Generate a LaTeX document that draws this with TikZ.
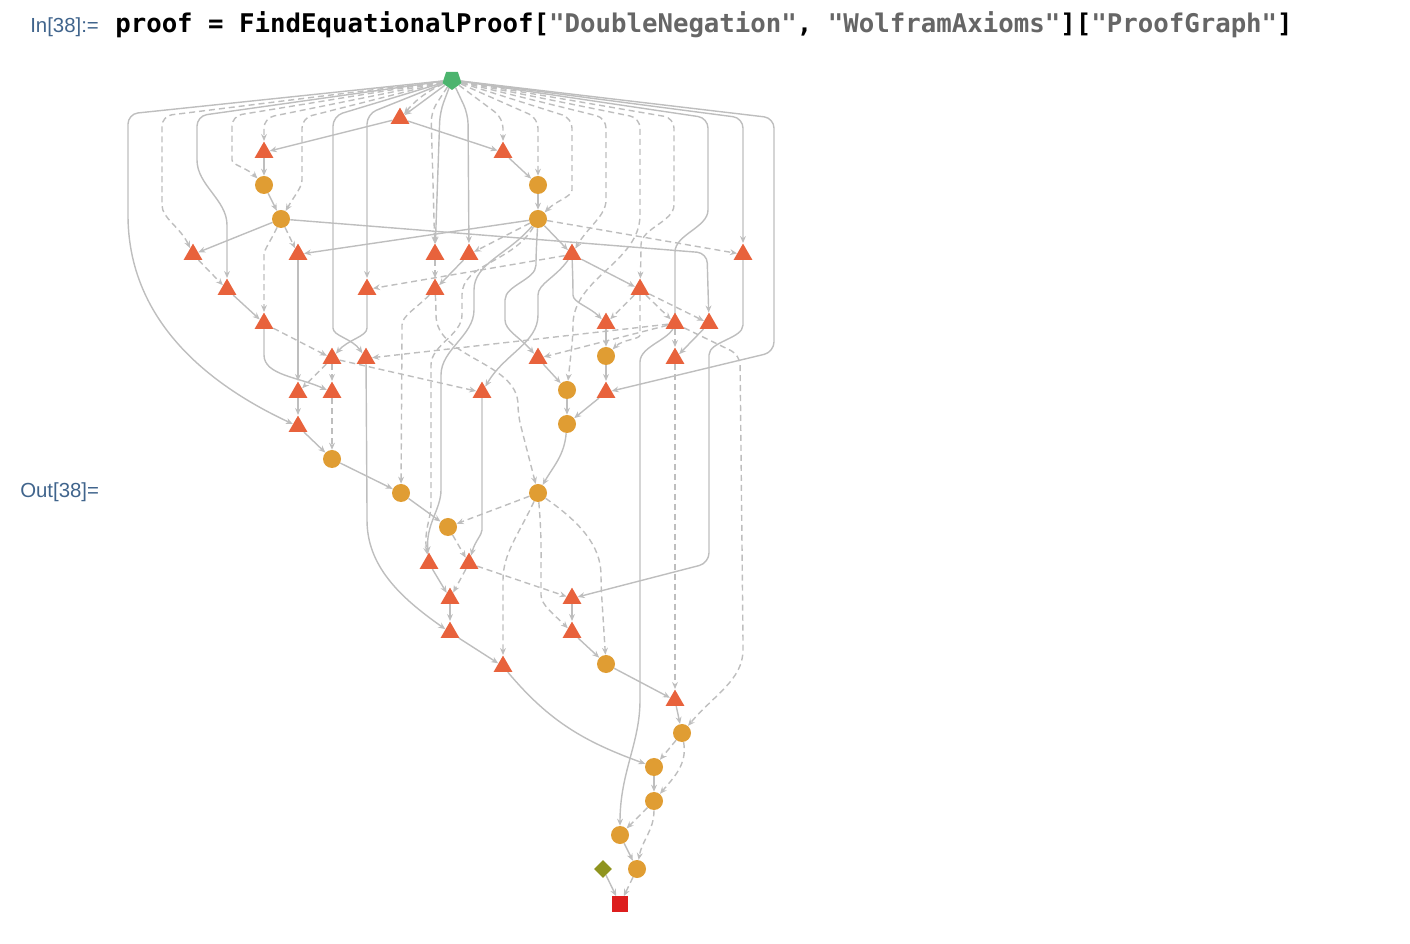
\documentclass[tikz,border=0pt]{standalone}
\usepackage{fontspec}
\setmainfont{Liberation Sans}
\newfontfamily\codefont{DejaVu Sans Mono}
\usetikzlibrary{shapes.geometric,arrows.meta,backgrounds}

\definecolor{triC}{RGB}{232,98,60}
\definecolor{circC}{RGB}{224,157,51}
\definecolor{startC}{RGB}{76,180,110}
\definecolor{axC}{RGB}{143,148,31}
\definecolor{endC}{RGB}{221,30,30}
\definecolor{edgeC}{RGB}{190,190,190}
\definecolor{labC}{RGB}{64,100,140}
\definecolor{strC}{RGB}{102,102,102}

\tikzset{
  tri/.style={regular polygon,regular polygon sides=3,fill=triC,inner sep=0pt,minimum size=0.54cm,yshift=-0.06cm},
  circ/.style={circle,fill=circC,inner sep=0pt,minimum size=0.45cm},
  edg/.style={->,draw=edgeC,line width=1pt,rounded corners=0.25cm},
  dedg/.style={edg,dash pattern=on 4.3pt off 2.8pt},
  inout/.style={font=\fontsize{14.5}{16}\selectfont,text=labC,anchor=base west,inner sep=0pt},
}

\begin{document}
\begin{tikzpicture}[x=0.025cm,y=-0.025cm,>={Stealth[length=5pt,width=4.2pt]}]
\useasboundingbox (0,0) rectangle (1410,944);

% input line
\node[inout] (inlab) at (30,33) {In[38]:=};
\node[anchor=base west,inner sep=0pt,font=\codefont\bfseries\fontsize{18.3}{22}\selectfont] (cmd) at (115,33)
  {proof = FindEquationalProof[\textcolor{strC}{"DoubleNegation"}, \textcolor{strC}{"WolframAxioms"}][\textcolor{strC}{"ProofGraph"}]};
\node[inout] (outlab) at (20,498) {Out[38]=};

% start, axiom and goal
\node[regular polygon,regular polygon sides=5,shape border rotate=180,fill=startC,inner sep=0pt,minimum size=0.5cm] (g) at (452,80) {};
\node[diamond,fill=axC,inner sep=0pt,minimum width=0.45cm,minimum height=0.45cm] (x1) at (603,869) {};
\node[rectangle,fill=endC,inner sep=0pt,minimum size=0.38cm] (z) at (620,904) {};

% lemmas
\node[tri] (a1) at (400,116) {};
\node[tri] (b1) at (264,150) {};
\node[tri] (b2) at (503,150) {};
\node[circ] (c1) at (264,185) {};
\node[circ] (c2) at (538,185) {};
\node[circ] (d1) at (281,219) {};
\node[circ] (d2) at (538,219) {};
\node[tri] (e1) at (193,252) {};
\node[tri] (e2) at (298,252) {};
\node[tri] (e3) at (435,252) {};
\node[tri] (e4) at (469,252) {};
\node[tri] (e5) at (572,252) {};
\node[tri] (e6) at (743,252) {};
\node[tri] (f1) at (227,287) {};
\node[tri] (f2) at (367,287) {};
\node[tri] (f3) at (435,287) {};
\node[tri] (f4) at (640,287) {};
\node[tri] (h1) at (264,321) {};
\node[tri] (h2) at (606,321) {};
\node[tri] (h3) at (675,321) {};
\node[tri] (h4) at (709,321) {};
\node[tri] (i1) at (332,356) {};
\node[tri] (i2) at (366,356) {};
\node[tri] (i3) at (538,356) {};
\node[circ] (i4) at (606,356) {};
\node[tri] (i5) at (675,356) {};
\node[tri] (j1) at (298,390) {};
\node[tri] (j2) at (332,390) {};
\node[tri] (j3) at (482,390) {};
\node[circ] (j4) at (567,390) {};
\node[tri] (j5) at (606,390) {};
\node[tri] (k1) at (298,424) {};
\node[circ] (k2) at (567,424) {};
\node[circ] (l1) at (332,459) {};
\node[circ] (m1) at (401,493) {};
\node[circ] (m2) at (538,493) {};
\node[circ] (n1) at (448,527) {};
\node[tri] (o1) at (429,561) {};
\node[tri] (o2) at (469,561) {};
\node[tri] (p1) at (450,596) {};
\node[tri] (p2) at (572,596) {};
\node[tri] (q1) at (450,630) {};
\node[tri] (q2) at (572,630) {};
\node[tri] (r1) at (503,664) {};
\node[circ] (r2) at (606,664) {};
\node[tri] (s1) at (675,698) {};
\node[circ] (t1) at (682,733) {};
\node[circ] (u1) at (654,767) {};
\node[circ] (v1) at (654,801) {};
\node[circ] (w1) at (620,835) {};
\node[circ] (x2) at (637,869) {};

\begin{scope}[on background layer]
% fan out of the start node
\draw[edg] (g) -- (128,114) -- (128,205) to[out=-90,in=155] (k1);
\draw[dedg] (g) -- (162,116) -- (162,195) to[out=-90,in=115] (e1);
\draw[edg] (g) -- (197,116) -- (197,150) to[out=-90,in=90] (227,235) -- (f1);
\draw[dedg] (g) -- (232,116) -- (232,150) to[out=-90,in=135] (c1);
\draw[dedg] (g) -- (264,118) -- (b1);
\draw[dedg] (g) -- (302,118) -- (302,170) to[out=-90,in=60] (d1);
\draw[edg] (g) -- (333,116) -- (333,318) to[out=-90,in=125] (i2);
\draw[edg] (g) -- (367,114) -- (f2);
\draw[edg] (g) -- (a1);
\draw[dedg] (g) to[bend right=12] (a1);
\draw[dedg] (g) -- (431,112) -- (e3);
\draw[edg] (g) -- (440,112) -- (e3);
\draw[edg] (g) -- (468,114) -- (e4);
\draw[dedg] (g) -- (503,118) -- (b2);
\draw[dedg] (g) -- (538,118) -- (c2);
\draw[dedg] (g) -- (572,118) -- (572,180) to[out=-90,in=45] (d2);
\draw[dedg] (g) -- (606,118) -- (606,190) to[out=-90,in=60] (e5);
\draw[dedg] (g) -- (640,118) -- (640,205) to[out=-90,in=90] (573,335) -- (j4);
\draw[dedg] (g) -- (674,118) -- (674,195) to[out=-90,in=90] (641,255) -- (f4);
\draw[edg] (g) -- (708,118) -- (708,200) to[out=-90,in=90] (675,262) -- (675,312)
  to[out=-90,in=90] (640,372) -- (640,690) to[out=-90,in=90] (w1);
\draw[edg] (g) -- (743,118) -- (e6);
\draw[edg] (g) -- (774,118) -- (774,352) -- (j5);

% upper part
\draw[edg] (a1) -- (b1);
\draw[edg] (a1) -- (b2);
\draw[edg] (b1) -- (c1);
\draw[edg] (c1) -- (d1);
\draw[edg] (b2) -- (c2);
\draw[edg] (c2) -- (d2);
\draw[edg] (d1) -- (e1);
\draw[dedg] (d1) -- (e2);
\draw[dedg] (d1) to[out=-115,in=90] (264,265) -- (h1);
\draw[edg] (d1) -- (707,253) -- (h4);
\draw[edg] (d2) -- (e2);
\draw[dedg] (d2) -- (e4);
\draw[edg] (d2) -- (e5);
\draw[dedg] (d2) -- (e6);
\draw[edg] (d2) to[out=-130,in=90] (474,300) to[out=-90,in=90] (441,385) -- (441,480) to[out=-90,in=95] (o1);
\draw[dedg] (d2) to[out=-120,in=90] (462,305) to[out=-90,in=90] (431,375) -- (431,495) to[out=-90,in=100] (o1);
\draw[edg] (d2) -- (536,255) to[out=-90,in=90] (505,310) to[out=-90,in=130] (i3);
\draw[edg] (e5) to[out=-125,in=90] (538,305) to[out=-90,in=60] (j3);
\draw[dedg] (e1) -- (f1);
\draw[dedg] (e3) -- (f3);
\draw[edg] (e4) -- (f3);
\draw[dedg] (e5) -- (f2);
\draw[edg] (e5) -- (f4);
\draw[edg] (e5) -- (573,285) to[out=-90,in=135] (h2);
\draw[dedg] (f3) to[out=-135,in=90] (402,335) -- (m1);
\draw[dedg] (f3) -- (436,305) to[out=-90,in=90] (518,415) -- (m2);
\draw[dedg] (f4) -- (h2);
\draw[dedg] (f4) -- (h3);
\draw[dedg] (f4) -- (h4);
\draw[dedg] (f4) -- (640,325) to[out=-90,in=45] (i4);
\draw[edg] (f1) -- (h1);
\draw[edg] (e2) -- (j1);
\draw[edg] (f2) -- (367,318) to[out=-90,in=50] (i1);

% middle part
\draw[edg] (h2) -- (i4);
\draw[edg] (i4) -- (j5);
\draw[dedg] (h3) -- (i5);
\draw[edg] (h4) -- (i5);
\draw[dedg] (h3) -- (i3);
\draw[dedg] (h3) -- (i2);
\draw[dedg] (h3) -- (740,355) -- (743,640) to[out=-90,in=50] (t1);
\draw[dedg] (i5) -- (s1);
\draw[edg] (j5) -- (k2);
\draw[edg] (j4) -- (k2);
\draw[edg] (i3) -- (j4);
\draw[edg] (k2) to[out=-95,in=60] (m2);
\draw[edg] (j3) -- (482,520) to[out=-90,in=75] (o2);
\draw[edg] (e6) -- (743,315) to[out=-90,in=90] (709,365) -- (709,563) -- (p2);
\draw[dedg] (h1) -- (i1);
\draw[edg] (h1) -- (264,345) to[out=-90,in=155] (j2);
\draw[dedg] (i1) -- (j1);
\draw[dedg] (i1) -- (j2);
\draw[dedg] (i1) -- (j3);
\draw[edg] (j1) -- (k1);
\draw[dedg] (j2) -- (l1);
\draw[edg] (k1) -- (l1);
\draw[edg] (l1) -- (m1);
\draw[edg] (m1) -- (n1);
\draw[edg] (i2) -- (367,510) to[out=-90,in=145] (q1);

% lower part
\draw[dedg] (m2) -- (n1);
\draw[dedg] (m2) to[out=-115,in=90] (503,590) -- (r1);
\draw[dedg] (m2) to[out=-85,in=90] (541,585) to[out=-90,in=135] (q2);
\draw[dedg] (m2) to[out=-35,in=90] (601,585) -- (r2);
\draw[dedg] (n1) -- (o2);
\draw[edg] (o1) -- (p1);
\draw[dedg] (o2) -- (p1);
\draw[dedg] (o2) -- (p2);
\draw[edg] (p1) -- (q1);
\draw[edg] (p2) -- (q2);
\draw[edg] (q1) -- (r1);
\draw[edg] (q2) -- (r2);
\draw[edg] (r2) -- (s1);
\draw[edg] (r1) to[out=-50,in=160] (u1);
\draw[edg] (s1) -- (t1);
\draw[dedg] (t1) -- (u1);
\draw[dedg] (t1) to[out=-80,in=50] (v1);
\draw[edg] (u1) -- (v1);
\draw[dedg] (v1) -- (w1);
\draw[dedg] (v1) to[out=-90,in=80] (x2);
\draw[edg] (w1) -- (x2);
\draw[dedg] (x2) -- (z);
\draw[edg] (x1) -- (z);
\end{scope}
\end{tikzpicture}
\end{document}
